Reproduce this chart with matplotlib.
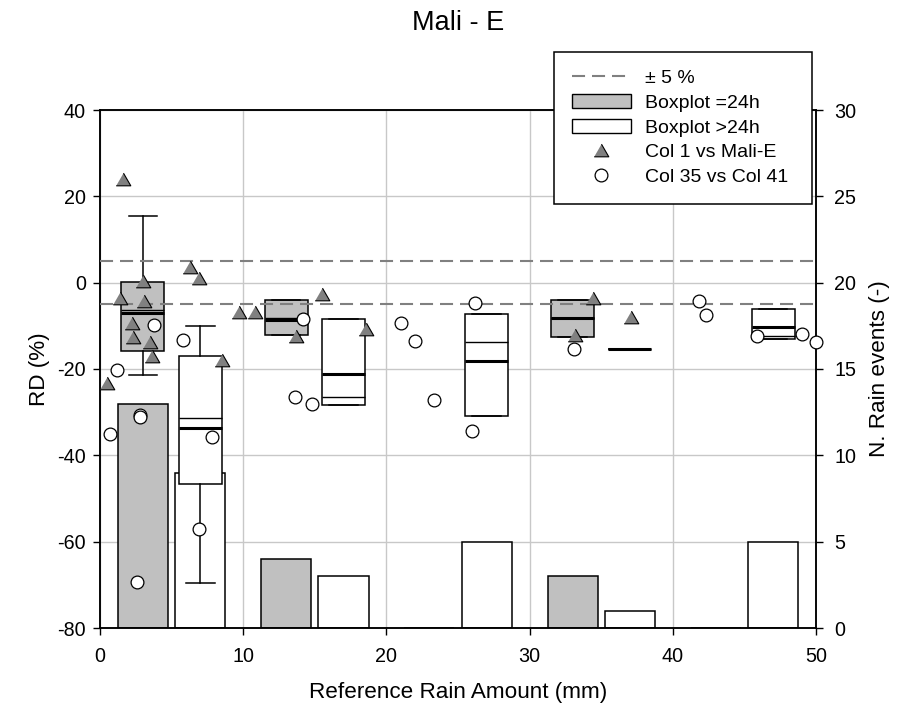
import matplotlib
matplotlib.use("Agg")
import matplotlib.pyplot as plt
from matplotlib.lines import Line2D
from matplotlib.patches import Patch

plt.rcParams['font.family'] = ['Liberation Sans', 'DejaVu Sans']
plt.rcParams['lines.scale_dashes'] = False
plt.rcParams['axes.unicode_minus'] = False

# ---- data ---------------------------------------------------------------
# Rain-event counts per class (right axis)
bar_pos_24 = [3, 13, 23, 33, 43]
n_events_24 = [13, 4, 0, 3, 0]
bar_pos_gt = [7, 17, 27, 37, 47]
n_events_gt = [9, 3, 5, 1, 5]

# Box statistics (RD %), events lasting =24h
box_pos_24 = [3, 13, 33]
q1_24 = [-15.8, -12.2, -12.5]
q3_24 = [0.2, -4.0, -4.0]
med_24 = [-7.0, -8.7, -8.2]
mean_24 = [-6.3, -8.2, -8.2]
wlo_24 = [-21.5, -12.2, -12.5]
whi_24 = [15.4, -4.0, -4.0]

# Box statistics (RD %), events lasting >24h
box_pos_gt = [7, 17, 27, 37, 47]
q1_gt = [-46.6, -28.3, -30.9, -15.4, -13.0]
q3_gt = [-17.0, -8.5, -7.3, -15.4, -6.0]
med_gt = [-33.7, -21.2, -18.1, -15.4, -10.2]
mean_gt = [-31.3, -26.5, -13.8, -15.4, -12.3]
wlo_gt = [-69.6, -28.3, -30.9, -15.4, -13.0]
whi_gt = [-10.0, -8.5, -7.3, -15.4, -6.0]

# Col 1 vs Mali-E
col1_x = [0.5, 1.6, 1.4, 3.0, 3.1, 2.2, 2.3, 3.5, 3.6, 6.3, 6.9, 8.5,
          9.7, 10.8, 13.7, 15.5, 18.6, 33.2, 34.4, 37.1]
col1_rd = [-23.3, 24.0, -3.6, 0.4, -4.2, -9.4, -12.7, -13.8, -17.0, 3.7, 1.0, -17.9,
           -6.8, -6.7, -12.3, -2.6, -10.7, -12.2, -3.6, -8.0]

# Col 35 vs Col 41
col35_x = [0.7, 1.2, 2.6, 2.8, 2.8, 3.8, 5.8, 6.9, 7.8, 13.6, 14.2, 14.8,
           21.0, 22.0, 23.3, 26.0, 26.2, 33.1, 41.8, 42.3, 45.9, 49.0, 50.0]
col35_rd = [-35.1, -20.2, -69.4, -30.6, -31.1, -9.8, -13.3, -57.1, -35.8, -26.4, -8.4, -28.1,
            -9.4, -13.5, -27.1, -34.3, -4.6, -15.4, -4.2, -7.6, -12.3, -12.0, -13.7]

tolerance = 5

# ---- figure -------------------------------------------------------------
W, H = 906, 717
fig = plt.figure(figsize=(W / 100, H / 100), dpi=100)


def fx(px):
    return px / W


def fy(py):
    return 1 - py / H


left, right, top, bottom = 100, 816, 110, 628
ax_n = fig.add_axes([fx(left), fy(bottom), fx(right - left), (bottom - top) / H])
ax = ax_n.twinx()

# event counts on the right axis, drawn underneath
ax_n.yaxis.tick_right()
ax_n.yaxis.set_label_position('right')
ax.yaxis.tick_left()
ax.yaxis.set_label_position('left')

GRAY = '#c0c0c0'
ax_n.bar(bar_pos_24, n_events_24, width=3.5, color=GRAY, edgecolor='black', linewidth=1.1)
ax_n.bar(bar_pos_gt, n_events_gt, width=3.5, color='white', edgecolor='black', linewidth=1.1)
ax_n.set_ylim(0, 30)
ax_n.set_yticks(range(0, 31, 5))
ax_n.set_xlim(0, 50)
ax_n.set_xticks(range(0, 51, 10))
ax_n.set_axisbelow(True)
ax_n.grid(True, color='#c8c8c8', linewidth=1.0)


def stats(pos, q1, q3, med, mean, lo, hi):
    return [dict(q1=a, q3=b, med=m, mean=mu, whislo=l, whishi=h, fliers=[])
            for a, b, m, mu, l, h in zip(q1, q3, med, mean, lo, hi)]


box_kw = dict(widths=3.0, capwidths=2.0, showmeans=True, meanline=True,
              patch_artist=True, manage_ticks=False,
              whiskerprops=dict(color='black', linewidth=1.1),
              capprops=dict(color='black', linewidth=1.1),
              medianprops=dict(color='black', linewidth=2.2),
              meanprops=dict(color='black', linestyle='-', linewidth=1.0))

b1 = ax.bxp(stats(box_pos_24, q1_24, q3_24, med_24, mean_24, wlo_24, whi_24),
            positions=box_pos_24,
            boxprops=dict(facecolor=GRAY, edgecolor='black', linewidth=1.1), **box_kw)
b2 = ax.bxp(stats(box_pos_gt, q1_gt, q3_gt, med_gt, mean_gt, wlo_gt, whi_gt),
            positions=box_pos_gt,
            boxprops=dict(facecolor='white', edgecolor='black', linewidth=1.1), **box_kw)

dash = (9.4, 5.0)
for v in (tolerance, -tolerance):
    ax.axhline(v, color='#808080', linewidth=1.5, dashes=dash, zorder=3)

tri = [(-1, -0.866), (1, -0.866), (0, 0.866)]
ax.plot(col1_x, col1_rd, linestyle='none', marker=tri, markersize=10.5,
        markerfacecolor='#808080', markeredgecolor='black', markeredgewidth=0.8,
        clip_on=False, zorder=4)
ax.plot(col35_x, col35_rd, linestyle='none', marker='o', markersize=9.2,
        markerfacecolor='white', markeredgecolor='black', markeredgewidth=0.9,
        clip_on=False, zorder=5)

ax.set_ylim(-80, 40)
ax.set_yticks(range(-80, 41, 20))
ax.set_xlim(0, 50)

for a in (ax, ax_n):
    for s in a.spines.values():
        s.set_linewidth(1.1)
    a.tick_params(direction='out', length=5, width=1.0, labelsize=14.2)
ax_n.tick_params(axis='x', pad=9)
ax_n.tick_params(axis='y', pad=8)
ax.tick_params(axis='y', pad=5)

# titles and axis labels
fig.text(fx(458), fy(30), 'Mali - E', ha='center', va='baseline', fontsize=19.5)
fig.text(fx(458), fy(698), 'Reference Rain Amount (mm)', ha='center', va='baseline',
         fontsize=16.2)
fig.text(fx(39), fy(369), 'RD (%)', ha='center', va='center', rotation=90, fontsize=16.2)
fig.text(fx(880), fy(369), 'N. Rain events (-)', ha='center', va='center', rotation=90,
         fontsize=16.2)

handles = [
    Line2D([], [], color='#808080', linewidth=1.5, dashes=dash),
    Patch(facecolor=GRAY, edgecolor='black', linewidth=1.0),
    Patch(facecolor='white', edgecolor='black', linewidth=1.0),
    Line2D([], [], linestyle='none', marker=tri, markersize=10.5, markerfacecolor='#808080',
           markeredgecolor='black', markeredgewidth=0.8),
    Line2D([], [], linestyle='none', marker='o', markersize=9.2, markerfacecolor='white',
           markeredgecolor='black', markeredgewidth=0.9),
]
labels = ['± 5 %', 'Boxplot =24h', 'Boxplot >24h', 'Col 1 vs Mali-E', 'Col 35 vs Col 41']
leg = fig.legend(handles, labels, loc='upper left',
                 bbox_to_anchor=(fx(554), fy(52), fx(812) - fx(554), 0.0001),
                 mode='expand', borderaxespad=0, fontsize=14, frameon=True,
                 fancybox=False, edgecolor='black', framealpha=1,
                 handlelength=3.05, handleheight=0.72, handletextpad=0.75,
                 labelspacing=0.36, borderpad=0.9)
leg.get_frame().set_linewidth(1.1)

fig.savefig('out.png', dpi=100)
